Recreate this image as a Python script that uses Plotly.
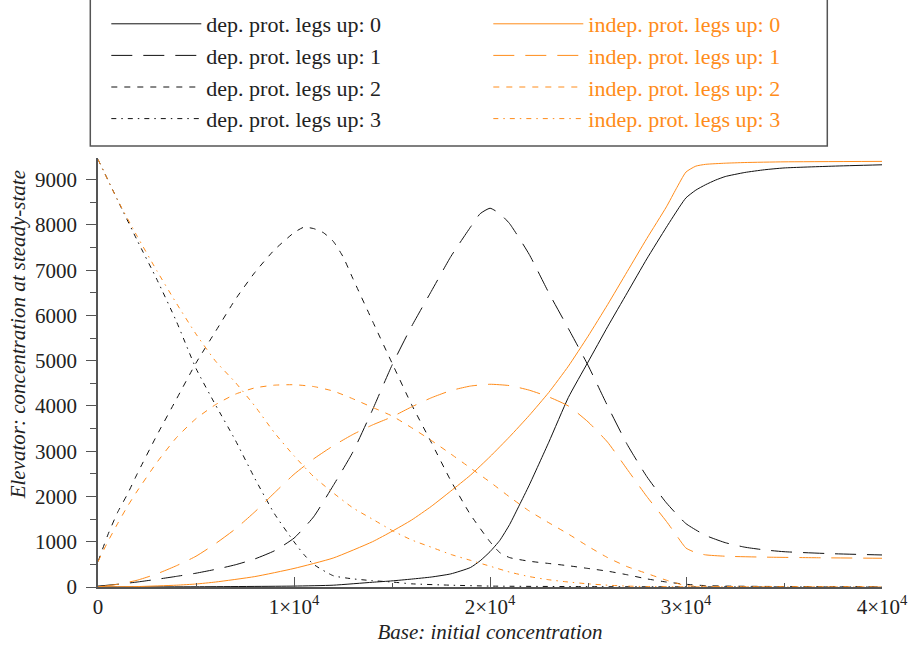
import plotly.graph_objects as go

# ---------------- data ----------------
x_dep0 = [0, 5000, 10000, 12000, 14000, 15000, 16000, 17000, 18000, 19000, 19500, 20000, 20500, 21000,
          21500, 22000, 23000, 24000, 25000, 26000, 27000, 28000, 29000, 29700, 30000, 30500, 31000, 31500,
          32000, 33000, 34000, 35000, 37500, 40000]
y_dep0 = [0, 5, 20, 40, 105, 135, 175, 220, 290, 430, 580, 780, 1030, 1380,
          1810, 2250, 3200, 4190, 4970, 5750, 6500, 7250, 7950, 8420, 8600, 8770, 8890, 8990,
          9070, 9160, 9220, 9260, 9300, 9330]

x_dep1 = [0, 1000, 2000, 3000, 4000, 5000, 6000, 7000, 8000, 9000, 10000, 11000, 12000, 13000, 14000,
          15000, 16000, 17000, 18000, 19000, 19500, 20000, 20500, 21000, 22000, 23000, 24000, 25000, 26000,
          27000, 28000, 29000, 30000, 31000, 32000, 33000, 34000, 35000, 37500, 40000]
y_dep1 = [20, 60, 110, 170, 235, 305, 390, 490, 620, 800, 1080, 1550, 2240, 2980, 3910,
          4900, 5760, 6530, 7300, 7950, 8250, 8370, 8250, 8030, 7350, 6500, 5710, 4900, 4000,
          3150, 2440, 1860, 1400, 1140, 980, 880, 820, 780, 735, 708]

x_dep2 = [0, 500, 1000, 1500, 2000, 3000, 4000, 5000, 6000, 7000, 8000, 9000, 10000, 10500, 11000, 11500,
          12000, 12500, 13000, 14000, 15000, 16000, 17000, 18000, 19000, 20000, 20500, 21000, 22000, 23000,
          24000, 25000, 26000, 27000, 28000, 29000, 30000, 31000, 32000, 35000, 40000]
y_dep2 = [560, 1150, 1650, 2050, 2500, 3350, 4150, 4950, 5650, 6350, 6950, 7450, 7830, 7950, 7920, 7830,
          7640, 7300, 6820, 5880, 4950, 4030, 3200, 2350, 1600, 1000, 760, 650, 570, 520,
          470, 410, 350, 270, 180, 110, 60, 30, 20, 10, 5]

x_dep3 = [0, 1000, 2000, 3000, 4000, 5000, 6000, 7000, 8000, 9000, 10000, 10500, 11000, 12000, 13000,
          14000, 15000, 16000, 18000, 20000, 25000, 30000, 40000]
y_dep3 = [9450, 8550, 7660, 6800, 5870, 4830, 4020, 3250, 2400, 1620, 1000, 720, 500, 250, 180,
          140, 110, 70, 40, 20, 8, 3, 1]

x_ind0 = [0, 2000, 4000, 5000, 6000, 8000, 10000, 12000, 14000, 15000, 16000, 17000, 18000, 19000, 20000,
          21000, 22000, 23000, 24000, 25000, 26000, 27000, 28000, 29000, 29500, 30000, 30500, 31000, 32000,
          33000, 35000, 40000]
y_ind0 = [0, 10, 40, 66, 110, 230, 410, 640, 1000, 1230, 1480, 1780, 2120, 2470, 2880,
          3320, 3790, 4300, 4880, 5540, 6240, 6970, 7700, 8400, 8800, 9170, 9300, 9340, 9365,
          9380, 9395, 9405]

x_ind1 = [0, 1000, 2000, 3000, 4000, 5000, 6000, 7000, 8000, 9000, 10000, 11000, 12000, 13000, 14000,
          15000, 16000, 17000, 18000, 19000, 20000, 21000, 22000, 23000, 24000, 25000, 26000, 27000, 28000,
          29000, 29500, 30000, 30500, 31000, 32000, 34000, 37000, 40000]
y_ind1 = [0, 60, 150, 290, 470, 680, 960, 1280, 1660, 2080, 2490, 2830, 3120, 3370, 3580,
          3760, 3980, 4180, 4340, 4440, 4480, 4450, 4350, 4200, 4000, 3650, 3200, 2600, 2000,
          1450, 1150, 860, 760, 710, 680, 660, 645, 635]

x_ind2 = [0, 500, 1000, 1500, 2000, 3000, 4000, 5000, 6000, 7000, 8000, 9000, 10000, 11000, 12000, 13000,
          14000, 15000, 16000, 17000, 18000, 19000, 20000, 21000, 22000, 23000, 24000, 25000, 26000, 27000,
          28000, 29000, 30000, 31000, 33000, 40000]
y_ind2 = [560, 1000, 1400, 1780, 2120, 2750, 3300, 3720, 4030, 4260, 4400, 4460, 4470, 4430, 4330, 4160,
          3970, 3780, 3520, 3240, 2940, 2630, 2320, 1990, 1680, 1420, 1170, 900, 650, 450,
          300, 150, 30, 15, 8, 3]

x_ind3 = [0, 1000, 2000, 3000, 4000, 5000, 6000, 7000, 8000, 9000, 10000, 11000, 12000, 13000, 14000,
          15000, 16000, 17000, 18000, 19000, 20000, 21000, 22000, 23000, 24000, 25000, 26000, 27000, 28000,
          30000, 40000]
y_ind3 = [9450, 8550, 7750, 6990, 6270, 5590, 4990, 4525, 4000, 3410, 2900, 2440, 2080, 1750, 1500,
          1250, 1040, 880, 720, 590, 460, 330, 230, 160, 110, 70, 40, 20, 10, 4, 1]

x_tick_vals = [0, 10000, 20000, 30000, 40000]
x_tick_text = ["0", "1×10<sup>4</sup>", "2×10<sup>4</sup>", "3×10<sup>4</sup>", "4×10<sup>4</sup>"]

dep_names = ["dep. prot. legs up: 0", "dep. prot. legs up: 1", "dep. prot. legs up: 2", "dep. prot. legs up: 3"]
ind_names = ["indep. prot. legs up: 0", "indep. prot. legs up: 1", "indep. prot. legs up: 2", "indep. prot. legs up: 3"]

# ---------------- styling ----------------
BLACK = "#111111"
ORANGE = "#ff8c1a"
TXT = "#222222"
AX = "#555555"
FONT = "Liberation Serif"
dashes = ["solid", "21px,11px", "6px,7px", "5px,5px,1.5px,5px"]

dep_x = [x_dep0, x_dep1, x_dep2, x_dep3]
dep_y = [y_dep0, y_dep1, y_dep2, y_dep3]
ind_x = [x_ind0, x_ind1, x_ind2, x_ind3]
ind_y = [y_ind0, y_ind1, y_ind2, y_ind3]

fig = go.Figure()
for i in range(4):
    fig.add_trace(go.Scatter(
        x=dep_x[i], y=dep_y[i], mode="lines", name=dep_names[i], legend="legend",
        line=dict(color=BLACK, width=1, dash=dashes[i], shape="spline", smoothing=0.5),
    ))
for i in range(4):
    fig.add_trace(go.Scatter(
        x=ind_x[i], y=ind_y[i], mode="lines", name=ind_names[i], legend="legend2",
        line=dict(color=ORANGE, width=1, dash=dashes[i], shape="spline", smoothing=0.5),
    ))

L, R, T, B = 97.7, 31.3, 158, 62
W, H = 913, 649
pw, ph = W - L - R, H - T - B


def px_x(p):
    return (p - L) / pw


def px_y(p):
    return (H - B - p) / ph


legend_common = dict(
    orientation="v", yanchor="top", xanchor="left",
    itemwidth=90, tracegroupgap=0, traceorder="normal",
    bgcolor="rgba(0,0,0,0)", borderwidth=0,
)

fig.update_layout(
    width=W, height=H,
    margin=dict(l=L, r=R, t=T, b=B, autoexpand=False),
    paper_bgcolor="white", plot_bgcolor="white",
    font=dict(family=FONT, size=20, color=TXT),
    showlegend=True,
    legend=dict(x=px_x(106), y=px_y(3), font=dict(family=FONT, size=22, color=TXT), **legend_common),
    legend2=dict(x=px_x(488), y=px_y(3), font=dict(family=FONT, size=22, color=ORANGE), **legend_common),
    shapes=[dict(type="rect", xref="paper", yref="paper",
                 x0=px_x(90), x1=px_x(827), y0=px_y(146), y1=px_y(-6),
                 line=dict(color=AX, width=1.5), fillcolor="rgba(0,0,0,0)", layer="above")],
    annotations=[dict(text="<i>Elevator: concentration at steady-state</i>", xref="paper", yref="paper",
                      x=px_x(18), y=px_y(335), textangle=-90, showarrow=False,
                      xanchor="center", yanchor="middle",
                      font=dict(family=FONT, size=21, color=TXT))],
)

fig.update_xaxes(
    range=[0, 40000],
    tickvals=x_tick_vals, ticktext=x_tick_text,
    ticks="inside", ticklen=10, tickwidth=1, tickcolor=AX,
    minor=dict(ticks="inside", ticklen=4, dtick=5000, tick0=0, tickcolor=AX, tickwidth=1),
    showline=True, linecolor=AX, linewidth=1.5,
    showgrid=False, zeroline=False,
    tickfont=dict(family=FONT, size=21, color=TXT),
    title=dict(text="<i>Base: initial concentration</i>", font=dict(family=FONT, size=21, color=TXT),
               standoff=6),
)
fig.update_yaxes(
    range=[0, 9480],
    tickmode="linear", tick0=0, dtick=1000,
    ticks="outside", ticklen=10, tickwidth=1, tickcolor=AX,
    minor=dict(ticks="outside", ticklen=6, dtick=500, tick0=0, tickcolor=AX, tickwidth=1),
    showline=True, linecolor=AX, linewidth=1.5,
    showgrid=False, zeroline=False,
    ticklabelstandoff=5,
    tickfont=dict(family=FONT, size=21, color=TXT),
)

fig.write_html("out.html", config={"displayModeBar": False},
               post_script="document.body.style.margin='0px';")
